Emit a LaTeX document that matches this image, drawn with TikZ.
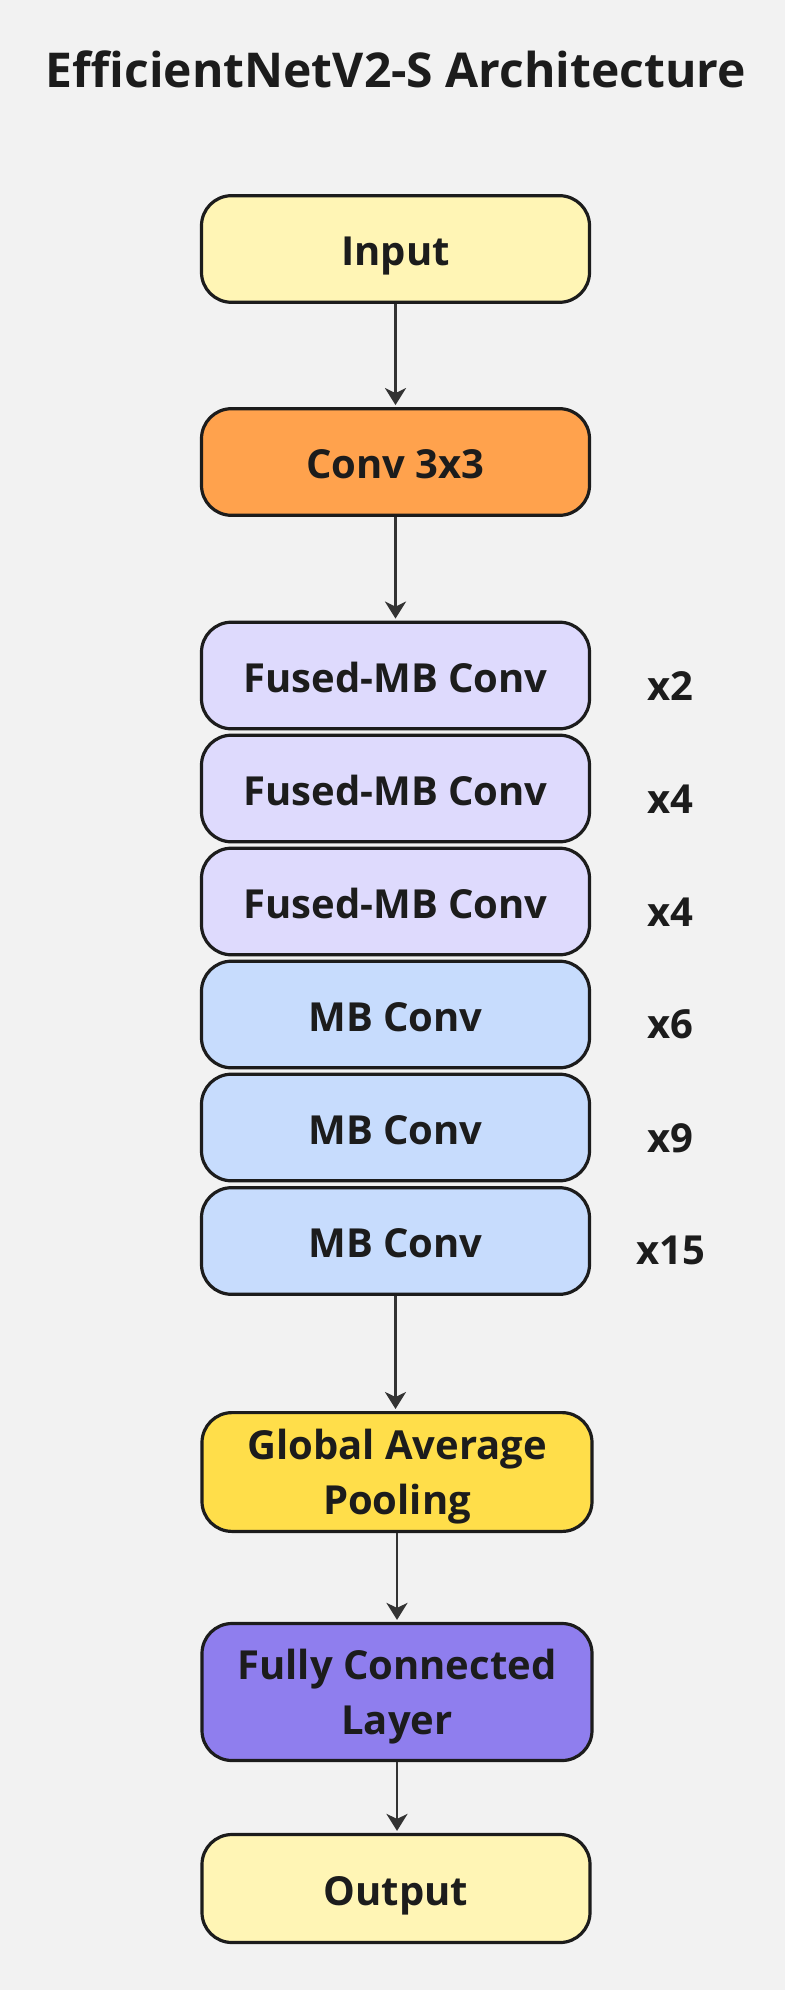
\documentclass[tikz,border=0pt]{standalone}
\usepackage{fontspec}
\setmainfont{Open Sans}
\usetikzlibrary{arrows.meta}
\definecolor{bg}{HTML}{F2F2F2}
\definecolor{bordc}{HTML}{1C1C1C}
\definecolor{txtc}{HTML}{1C1C1C}
\definecolor{arrc}{HTML}{333333}
\definecolor{inc}{HTML}{FFF5B5}
\definecolor{convc}{HTML}{FFA24D}
\definecolor{fusedc}{HTML}{DEDAFD}
\definecolor{mbc}{HTML}{C7DCFD}
\definecolor{gapc}{HTML}{FFDE4A}
\definecolor{fcc}{HTML}{8F7EEE}
\newcommand\bxfont{\fontsize{20pt}{27.5pt}\selectfont\bfseries}
\newcommand\ttlfont{\fontsize{24pt}{30pt}\selectfont\bfseries}
\begin{document}
\begin{tikzpicture}[x=0.5pt,y=-0.5pt,
  box/.style={draw=bordc, line width=1.6pt, rounded corners=15pt,
    minimum width=194pt, minimum height=53.3pt, inner sep=0pt,
    font=\bxfont, text=txtc, align=center},
  oneline/.style={text height=16.8pt, text depth=0pt},
  twoline/.style={minimum width=195pt, text height=42.8pt, text depth=0pt},
  arr/.style={draw=arrc, line width=1.4pt,
    -{Stealth[length=8.5pt,width=10.5pt,inset=2.5pt]}, shorten >=1pt},
  reps/.style={font=\bxfont, text=txtc, anchor=base, inner sep=0pt},
  ttl/.style={font=\ttlfont, text=txtc, text height=17.1pt, text depth=0pt, inner sep=0pt}]
\fill[bg] (0,0) rectangle (785,1990);
\useasboundingbox (0,0) rectangle (785,1990);

\node[ttl] (title) at (396,70) {EfficientNetV2-S Architecture};

\node[box, oneline, fill=inc] (in) at (395.5,249) {Input};
\node[box, oneline, fill=convc] (conv) at (395.5,462) {Conv 3x3};
\node[box, oneline, fill=fusedc] (f1) at (395.5,675.5) {Fused-MB Conv};
\node[box, oneline, fill=fusedc] (f2) at (395.5,788.5) {Fused-MB Conv};
\node[box, oneline, fill=fusedc] (f3) at (395.5,901.5) {Fused-MB Conv};
\node[box, oneline, fill=mbc] (m1) at (395.5,1014.5) {MB Conv};
\node[box, oneline, fill=mbc] (m2) at (395.5,1127.5) {MB Conv};
\node[box, oneline, fill=mbc] (m3) at (395.5,1241) {MB Conv};
\node[box, twoline, fill=gapc, minimum height=59.4pt] (gap) at (397,1472) {Global Average\\Pooling};
\node[box, twoline, fill=fcc, minimum height=68.5pt] (fc) at (397,1692) {Fully Connected\\Layer};
\node[box, oneline, fill=inc, minimum height=54pt] (out) at (396,1888.5) {Output};

\node[reps] (r1) at (670.5,700) {x2};
\node[reps] (r2) at (670.5,813) {x4};
\node[reps] (r3) at (670.5,926) {x4};
\node[reps] (r4) at (670.5,1038) {x6};
\node[reps] (r5) at (670.5,1152) {x9};
\node[reps] (r6) at (670.5,1264) {x15};

\draw[arr] (in.south) -- (in.south |- conv.north);
\draw[arr] (conv.south) -- (conv.south |- f1.north);
\draw[arr] (m3.south) -- (m3.south |- gap.north);
\draw[arr] (gap.south) -- (gap.south |- fc.north);
\draw[arr] (fc.south) -- (fc.south |- out.north);
\end{tikzpicture}
\end{document}
